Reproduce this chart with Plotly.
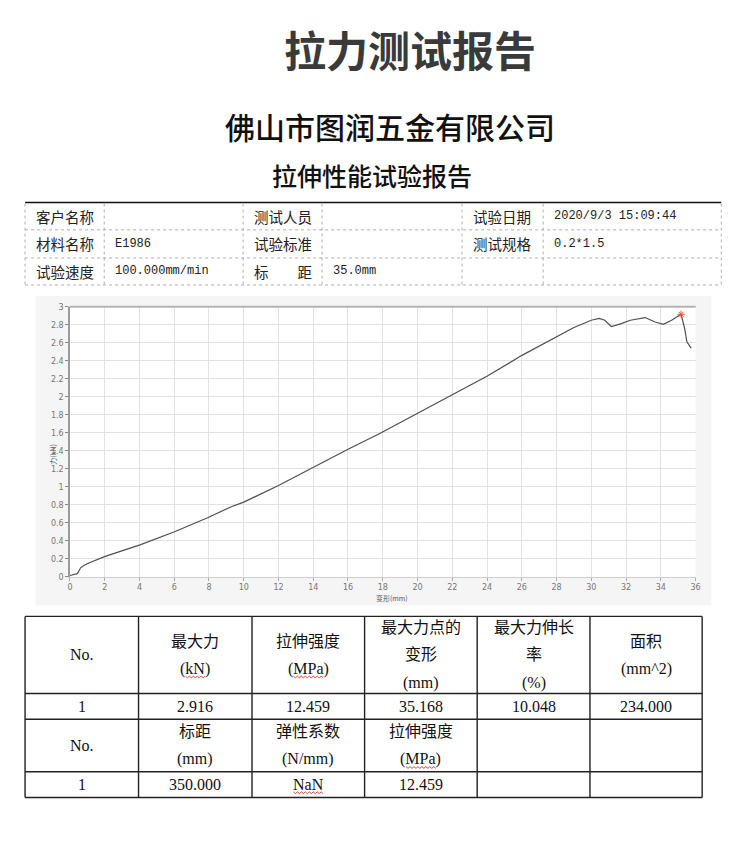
import plotly.graph_objects as go

# ---------------- data ----------------
disp_mm = [0, 0.3, 0.42, 0.5, 0.61, 0.8, 1.08, 2.03, 3.17, 4.03, 6.02, 6.97, 7.5, 7.92,
           9.25, 10.0, 12.0, 14.0, 16.0, 17.8, 20.03, 22.04, 24.02, 26.01, 28.0, 29.0,
           30.0, 30.45, 30.78, 31.15, 31.68, 32.25, 33.1, 33.67, 34.15, 34.62, 35.168,
           35.38, 35.5, 35.75]
force_kn = [0.015, 0.025, 0.035, 0.06, 0.1, 0.125, 0.154, 0.227, 0.30, 0.355, 0.50, 0.575,
            0.62, 0.656, 0.776, 0.83, 1.014, 1.216, 1.418, 1.59, 1.82, 2.03, 2.23, 2.46,
            2.67, 2.77, 2.85, 2.87, 2.85, 2.78, 2.81, 2.85, 2.88, 2.83, 2.805, 2.85,
            2.916, 2.755, 2.61, 2.54]
peak_disp = [35.168]
peak_force = [2.916]

main_title = "拉力测试报告"
company = "佛山市图润五金有限公司"
sub_title = "拉伸性能试验报告"

info_labels = [["客户名称", "测试人员", "试验日期"],
               ["材料名称", "试验标准", "测试规格"],
               ["试验速度", "标　　距", ""]]
info_values = [["", "", "2020/9/3 15:09:44"],
               ["E1986", "", "0.2*1.5"],
               ["100.000mm/min", "35.0mm", ""]]

res_head1 = ["No.", "最大力<br>(kN)", "拉伸强度<br>(MPa)", "最大力点的<br>变形<br>(mm)",
             "最大力伸长<br>率<br>(%)", "面积<br>(mm^2)"]
res_row1 = ["1", "2.916", "12.459", "35.168", "10.048", "234.000"]
res_head2 = ["No.", "标距<br>(mm)", "弹性系数<br>(N/mm)", "拉伸强度<br>(MPa)", "", ""]
res_row2 = ["1", "350.000", "NaN", "12.459", "", ""]

W, H = 750, 844
def X(p): return p / W
def Y(p): return 1 - p / H

shapes = []
ann = []

def text(x, y, s, size, color="#222", family="Noto Sans CJK SC", xanchor="center", **kw):
    ann.append(dict(x=X(x), y=Y(y), xref="paper", yref="paper", text=s, showarrow=False,
                    xanchor=xanchor, yanchor="middle",
                    font=dict(size=size, color=color, family=family), **kw))

def line(x0, y0, x1, y1, color, width, dash="solid"):
    shapes.append(dict(type="line", xref="paper", yref="paper", x0=X(x0), y0=Y(y0),
                       x1=X(x1), y1=Y(y1), line=dict(color=color, width=width, dash=dash)))

def wavy(xc, y, w):
    x0 = xc - w / 2
    pts = []
    n = int(w / 2)
    for i in range(n + 1):
        pts.append((x0 + i * 2, y + (1.1 if i % 2 else -0.6)))
    path = "M " + " L ".join(f"{X(a):.5f},{Y(b):.5f}" for a, b in pts)
    shapes.append(dict(type="path", xref="paper", yref="paper", path=path,
                       line=dict(color="#e03030", width=0.9)))

# titles
text(411, 45, f"<b>{main_title}</b>", 42, color="#3a3a3a")
text(391, 123, company, 30, color="#111", weight=500) if False else None
ann.append(dict(x=X(391), y=Y(123), xref="paper", yref="paper", text=company, showarrow=False,
                xanchor="center", yanchor="middle",
                font=dict(size=30, color="#111", family="Noto Sans CJK SC", weight=500)))
ann.append(dict(x=X(373), y=Y(173), xref="paper", yref="paper", text=sub_title, showarrow=False,
                xanchor="center", yanchor="middle",
                font=dict(size=25, color="#111", family="Noto Sans CJK SC", weight=500)))

# info table
cols1 = [22.3, 102.3, 242.7, 322.5, 464, 546, 726]
rows1 = [200.7, 228.3, 256.7, 284]
for i, r in enumerate(rows1):
    if i == 0:
        line(cols1[0], r, cols1[-1], r, "#111", 1.6)
    else:
        line(cols1[0], r, cols1[-1], r, "#b0b0b0", 1, "dot")
for c in cols1:
    line(c, rows1[0] + 1, c, rows1[-1], "#b0b0b0", 1, "dot")
for ri in range(3):
    yc = (rows1[ri] + rows1[ri + 1]) / 2
    for ci in range(3):
        lab = info_labels[ri][ci]
        val = info_values[ri][ci]
        if lab:
            text(cols1[2 * ci] + 9, yc, lab, 14.5, color="#222", xanchor="left")
        if val:
            text(cols1[2 * ci + 1] + 9, yc, val, 12, color="#222",
                 family="Liberation Mono", xanchor="left")

# chart background
shapes.append(dict(type="rect", xref="paper", yref="paper", x0=X(33), x1=X(716),
                   y0=Y(608), y1=Y(295), fillcolor="#f5f5f5", line=dict(width=0), layer="below"))
shapes.append(dict(type="rect", xref="paper", yref="paper", x0=X(67.7), x1=X(700),
                   y0=Y(579), y1=Y(306), fillcolor="#ffffff", line=dict(width=0), layer="below"))
# top border of plot
shapes.append(dict(type="line", xref="paper", yref="paper", x0=X(67.7), x1=X(700),
                   y0=Y(306), y1=Y(306), line=dict(color="#b4b4b4", width=2.2)))

text(375, 600, "变形(mm)", 7, color="#555", xanchor="left")
ann.append(dict(x=X(44), y=Y(455), xref="paper", yref="paper", text="力(kN)", showarrow=False,
                textangle=-90, font=dict(size=7, color="#555", family="Noto Sans CJK SC")))

# results table
cols2 = [22.3, 137, 251.7, 365.5, 479.3, 593.3, 706.7]
rows2 = [619, 697, 723, 776, 802]
for r in rows2:
    line(cols2[0], r, cols2[-1], r, "#222", 1.4)
for c in cols2:
    line(c, rows2[0], c, rows2[-1], "#222", 1.4)

serif = "Liberation Serif, Noto Sans CJK SC"
def cell(ci, ri, s, underline_words=()):
    lines_ = s.split("<br>")
    yc = (rows2[ri] + rows2[ri + 1]) / 2
    xc = (cols2[ci] + cols2[ci + 1]) / 2
    step = 28
    y0 = yc - step * (len(lines_) - 1) / 2
    for k, t in enumerate(lines_):
        yy = y0 + k * step
        text(xc, yy, t, 16, color="#111", family=serif)
        for word, w in underline_words:
            if word in t:
                wavy(xc, yy + 8, w)

for ci, s in enumerate(res_head1):
    uw = [("kN", 20)] if "kN" in s else ([("MPa", 30)] if "MPa" in s else [])
    cell(ci, 0, s, uw)
for ci, s in enumerate(res_row1):
    cell(ci, 1, s)
for ci, s in enumerate(res_head2):
    if s:
        uw = [("MPa", 30)] if "MPa" in s else []
        cell(ci, 2, s, uw)
for ci, s in enumerate(res_row2):
    if s:
        uw = [("NaN", 30)] if s == "NaN" else []
        cell(ci, 3, s, uw)

fig = go.Figure()
fig.add_trace(go.Scatter(x=disp_mm, y=force_kn, mode="lines",
                         line=dict(color="#505050", width=1.2), hoverinfo="x+y"))
fig.add_trace(go.Scatter(x=peak_disp, y=peak_force, mode="markers",
                         marker=dict(symbol="asterisk-open", size=6,
                                     line=dict(color="#d03050", width=1))))

fig.update_layout(
    width=W, height=H, margin=dict(l=0, r=0, t=0, b=0),
    paper_bgcolor="white", plot_bgcolor="rgba(0,0,0,0)", showlegend=False,
    shapes=shapes, annotations=ann,
    xaxis=dict(domain=[X(67.7), X(700)], range=[0, 36], dtick=2, tick0=0,
               showgrid=True, gridcolor="#e2e2e2", gridwidth=1, zeroline=False,
               showline=True, linecolor="#cfcfcf", linewidth=1, mirror=True,
               ticks="outside", ticklen=3, tickcolor="#aaa",
               tickfont=dict(size=8, color="#777", family="DejaVu Sans")),
    yaxis=dict(domain=[Y(579), Y(306)], range=[0, 3], dtick=0.2, tick0=0,
               showgrid=True, gridcolor="#e2e2e2", gridwidth=1, zeroline=False,
               showline=True, linecolor="#9a9a9a", linewidth=1.5,
               ticks="outside", ticklen=3, tickcolor="#888",
               tickfont=dict(size=8, color="#777", family="DejaVu Sans")),
)

fig.write_html("out.html")
